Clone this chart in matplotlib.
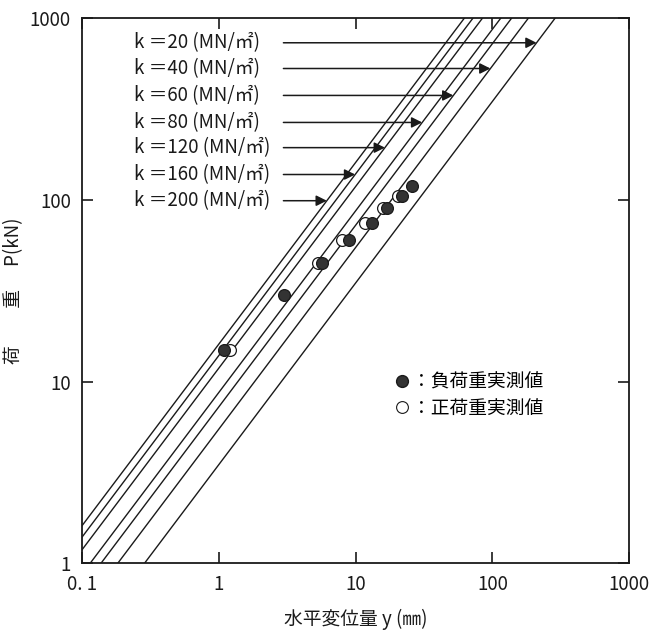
"""Load-displacement (log-log) chart with Chang-type reference lines for several k."""
import matplotlib

matplotlib.use("Agg")
import matplotlib.pyplot as plt
from matplotlib.lines import Line2D

plt.rcParams["font.family"] = ["Noto Sans CJK JP", "DejaVu Sans"]

# reference lines: horizontal displacement y (mm) at P = 1 kN and at P = 1000 kN
K_VALUES = [20, 40, 60, 80, 120, 160, 200]
Y_AT_P1 = [0.287, 0.183, 0.138, 0.115, 0.0845, 0.072, 0.0623]
Y_AT_P1000 = [287, 183, 138, 115, 84.5, 72.0, 62.3]
ARROW_P = [733, 529, 376, 267, 194, 138, 99]  # load level of each label arrow

# measured values: negative load (filled) and positive load (open)
NEG_Y = [1.1, 3.0, 5.7, 9.0, 13.2, 17.0, 21.7, 25.8]
NEG_P = [15, 30, 45, 60, 75, 90, 105, 120]
POS_Y = [1.2, 5.3, 8.0, 11.7, 15.8, 20.6]
POS_P = [15, 45, 60, 75, 90, 105]

X_TICKS = [0.1, 1, 10, 100, 1000]
X_TICKLABELS = ["0. 1", "1", "10", "100", "1000"]
Y_TICKS = [1, 10, 100, 1000]
Y_TICKLABELS = ["1", "10", "100", "1000"]

INK = "#1a1a1a"
FS = 13.5

fig = plt.figure(figsize=(6.5, 6.3), dpi=100)
ax = fig.add_axes([0.126, 0.106, 0.842, 0.865])
ax.set_xscale("log")
ax.set_yscale("log")

for y1, y2 in zip(Y_AT_P1, Y_AT_P1000):
    ax.plot([y1, y2], [1, 1000], color=INK, lw=1.0, zorder=2)

# label + arrow pointing at its line
for k, y1, p in zip(K_VALUES, Y_AT_P1, ARROW_P):
    ax.text(0.239, p, f"k ＝{k} (MN/㎡)", fontsize=FS, color=INK,
            ha="left", va="center", zorder=4)
    ax.annotate("", xy=(y1 * p, p), xytext=(2.97, p),
                arrowprops=dict(arrowstyle="-|>", color=INK, lw=1.1,
                                mutation_scale=16, shrinkA=0, shrinkB=0),
                zorder=4)

ax.plot(POS_Y, POS_P, "o", ms=8.5, mfc="white", mec=INK, mew=0.9,
        ls="none", zorder=3)
ax.plot(NEG_Y, NEG_P, "o", ms=8.5, mfc="#333333", mec=INK, mew=0.9,
        ls="none", zorder=3)

handles = [
    Line2D([], [], marker="o", ls="none", ms=8.5, mfc="#333333", mec=INK),
    Line2D([], [], marker="o", ls="none", ms=8.5, mfc="white", mec=INK, mew=0.8),
]
ax.legend(handles, ["：負荷重実測値", "：正荷重実測値"], frameon=False,
          loc="upper left", bbox_to_anchor=(0.572, 0.352), fontsize=FS,
          handlelength=0.7, handletextpad=0.2, labelspacing=0.3,
          borderpad=0, borderaxespad=0)

ax.set_xlim(0.1, 1000)
ax.set_ylim(1, 1000)
ax.set_xticks(X_TICKS)
ax.set_xticklabels(X_TICKLABELS)
ax.set_yticks(Y_TICKS)
ax.set_yticklabels(Y_TICKLABELS)
ax.minorticks_off()
ax.tick_params(which="major", direction="in", length=8, width=1.2,
               top=True, right=True, labelsize=FS, colors=INK, pad=8)
for s in ax.spines.values():
    s.set_linewidth(1.3)
    s.set_color(INK)

ax.set_xlabel("水平変位量 y (㎜)", fontsize=FS, color=INK, labelpad=10)
ax.set_ylabel("荷　　重　 P(kN)", fontsize=FS, color=INK, labelpad=4)

fig.savefig("out.png", dpi=100, facecolor="white")
